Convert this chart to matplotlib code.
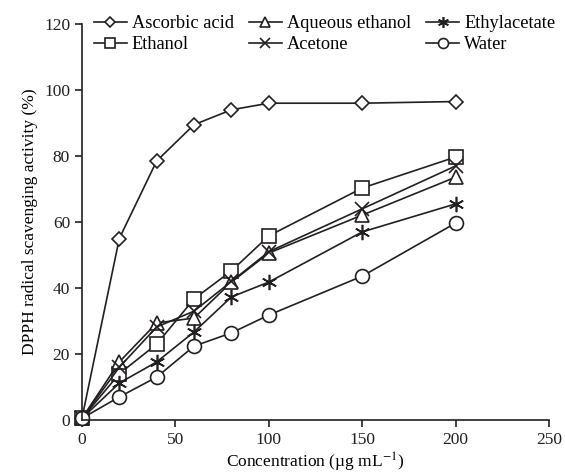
import matplotlib
matplotlib.use("Agg")
import matplotlib.pyplot as plt

# ── Data ──────────────────────────────────────────────────────
conc = [0, 20, 40, 60, 80, 100, 150, 200]
ascorbic = [0.5, 55, 78.5, 89.5, 94, 96, 96, 96.5]
ethanol = [0.5, 14, 23, 36.7, 45.2, 55.8, 70.3, 79.7]
aq_ethanol = [0.5, 17.6, 29.4, 30.9, 41.8, 50.6, 62.1, 73.6]
acetone = [0.5, 16, 28.2, 33, 42, 51, 64, 77]
ethylacetate = [0.5, 11.2, 17.6, 26.7, 37.3, 41.8, 57, 65.5]
water = [0.5, 7, 13, 22.4, 26.4, 31.8, 43.6, 59.7]

x_ticks = [0, 50, 100, 150, 200, 250]
y_ticks = [0, 20, 40, 60, 80, 100, 120]

plt.rcParams["font.family"] = ["Liberation Serif", "DejaVu Serif"]
plt.rcParams["mathtext.fontset"] = "stix"

fig = plt.figure(figsize=(5.65, 4.76), dpi=100)
ax = fig.add_axes([0.145, 0.1176, 0.827, 0.832])

series = [
    ("Ascorbic acid", ascorbic, "D", 7),
    ("Ethanol", ethanol, "s", 10),
    ("Aqueous ethanol", aq_ethanol, "^", 10),
    ("Acetone", acetone, "x", 10),
    ("Ethylacetate", ethylacetate, "*", 11),
    ("Water", water, "o", 10),
]

for name, vals, mk, ms in series:
    kw = dict(markerfacecolor="white") if mk not in ("x", "*") else {}
    if mk == "*":
        mk = (6, 2, 0)
    ax.plot(conc, vals, color="#231f20", lw=1.2, marker=mk, ms=ms,
            mec="#231f20", mew=1.2, label=name, clip_on=False, **kw)

ax.set_xlim(0, 250)
ax.set_ylim(0, 120)
ax.set_xticks(x_ticks)
ax.set_yticks(y_ticks)
ax.spines["top"].set_visible(False)
ax.spines["right"].set_visible(False)
for s in ("left", "bottom"):
    ax.spines[s].set_linewidth(1.2)
    ax.spines[s].set_color("#231f20")
ax.tick_params(direction="out", length=5, width=1.2, labelsize=12.5, colors="#231f20")

ax.set_xlabel(r"Concentration (µg mL$^{-1}$)", fontsize=12.5, labelpad=2)
ax.set_ylabel("DPPH radical scavenging activity (%)", fontsize=12.5)

ax.legend(ncol=3, loc="upper left", bbox_to_anchor=(0.01, 1.04), frameon=False,
          fontsize=13.2, handlelength=1.8, handletextpad=0.27, columnspacing=0.82,
          labelspacing=0.2, borderaxespad=0.2, borderpad=0.2, markerscale=0.72)

fig.savefig("out.png", dpi=100)
